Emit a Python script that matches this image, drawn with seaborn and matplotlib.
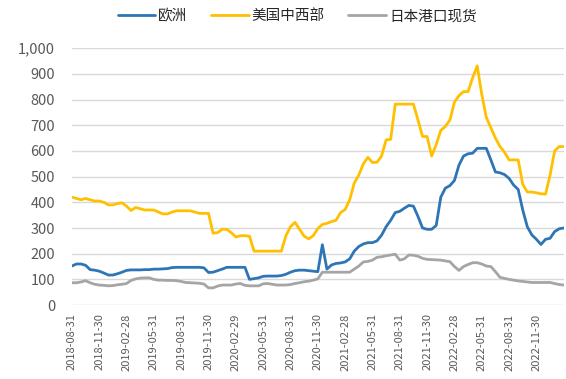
import pandas as pd
import numpy as np
import matplotlib
matplotlib.use('Agg')
import matplotlib.pyplot as plt
import seaborn as sns
from matplotlib.ticker import FuncFormatter

# Dates: month ends from 2018-08-31 plus the 15th of each month in between
month_ends = pd.date_range('2018-08-31', '2023-02-28', freq=pd.offsets.MonthEnd())
dates = [month_ends[0]]
for me in month_ends[1:]:
    dates.append(me.replace(day=15))
    dates.append(me)

# Values (semi-monthly)
europe = [152, 160, 160, 155, 138, 136, 132, 125, 117, 117,
          122, 128, 135, 137, 137, 137, 138, 138, 140, 140,
          141, 142, 146, 147, 147, 147, 147, 147, 147, 145,
          127, 128, 134, 140, 147, 147, 147, 147, 147, 100,
          103, 106, 112, 113, 113, 113, 115, 120, 128, 134,
          136, 136, 134, 132, 130, 235, 140, 156, 162, 164,
          168, 180, 210, 228, 238, 243, 243, 250, 272, 305,
          330, 360, 365, 377, 388, 385, 345, 300, 295, 295,
          310, 420, 455, 465, 485, 545, 580, 589, 591, 610,
          610, 610, 565, 518, 515, 508, 493, 467, 450, 370,
          305, 273, 256, 236, 256, 260, 286, 297, 300]

us_midwest = [420, 415, 410, 415, 410, 405, 405, 400, 390, 390,
              395, 398, 385, 368, 380, 375, 370, 370, 370, 362,
              355, 355, 362, 367, 367, 367, 367, 362, 357, 357,
              357, 280, 282, 295, 295, 282, 265, 270, 270, 268,
              210, 210, 210, 210, 210, 210, 210, 270, 305, 322,
              295, 268, 258, 270, 298, 314, 318, 325, 330, 360,
              372, 410, 475, 506, 550, 575, 555, 556, 580, 643,
              645, 782, 782, 782, 782, 782, 720, 656, 656, 580,
              625, 680, 695, 720, 790, 815, 831, 831, 885, 931,
              820, 730, 690, 650, 617, 595, 565, 565, 565, 470,
              440, 440, 437, 433, 432, 506, 600, 617, 617]

japan_spot = [87, 87, 90, 95, 87, 81, 78, 77, 75, 76,
              79, 81, 84, 96, 102, 105, 106, 106, 100, 97,
              97, 96, 96, 95, 92, 88, 87, 86, 85, 82,
              67, 67, 74, 78, 78, 78, 82, 84, 77, 75,
              75, 75, 83, 84, 81, 78, 78, 78, 80, 84,
              87, 91, 93, 97, 102, 128, 128, 128, 128, 128,
              128, 128, 140, 152, 168, 170, 175, 186, 188, 192,
              195, 198, 175, 180, 195, 194, 190, 182, 178, 177,
              176, 175, 172, 169, 150, 135, 150, 158, 165, 165,
              160, 152, 150, 130, 108, 104, 100, 97, 94, 92,
              90, 88, 88, 88, 88, 88, 84, 80, 78]

series_names = ['欧洲', '美国中西部', '日本港口现货']
colors = ['#2E75B6', '#FFC000', '#A5A5A5']

df = pd.DataFrame({'idx': np.arange(len(dates)),
                   '欧洲': europe,
                   '美国中西部': us_midwest,
                   '日本港口现货': japan_spot})
df_long = df.melt(id_vars='idx', var_name='series', value_name='value')

sns.set_style('white')
plt.rcParams['font.family'] = ['Noto Sans CJK SC', 'DejaVu Sans']

fig = plt.figure(figsize=(5.66, 3.79), dpi=100)
ax = fig.add_axes([0.127, 0.195, 0.869, 0.678])

sns.lineplot(data=df_long, x='idx', y='value', hue='series',
             hue_order=series_names, palette=colors, linewidth=2.0, ax=ax)

# Axes
ax.set_xlim(0, len(dates) - 1)
ax.set_ylim(0, 1000)
ax.set_yticks(range(0, 1001, 100))
ax.yaxis.set_major_formatter(FuncFormatter(lambda v, p: f'{int(v):,}'))
ax.yaxis.grid(True, color='#d9d9d9', linewidth=1.0)
ax.set_axisbelow(True)
for s in ax.spines.values():
    s.set_visible(False)

# quarterly ticks, last one 2022-11-30
tick_pos = list(range(0, len(dates) - 1, 6))
ax.set_xticks(tick_pos)
ax.set_xticklabels([dates[i].strftime('%Y-%m-%d') for i in tick_pos],
                   rotation=90, fontsize=8, color='#595959')
ax.tick_params(axis='y', labelsize=10.5, colors='#595959', length=0, pad=12)
ax.tick_params(axis='x', length=0, pad=6)
ax.set_xlabel('')
ax.set_ylabel('')

# Legend at top
handles, labels = ax.get_legend_handles_labels()
ax.get_legend().remove()
fig.legend(handles, labels, loc='upper center', bbox_to_anchor=(0.525, 1.01),
           ncol=3, frameon=False, fontsize=10.5, handlelength=2.6,
           columnspacing=1.6, handletextpad=0.2)

fig.savefig('out.png', dpi=100)
